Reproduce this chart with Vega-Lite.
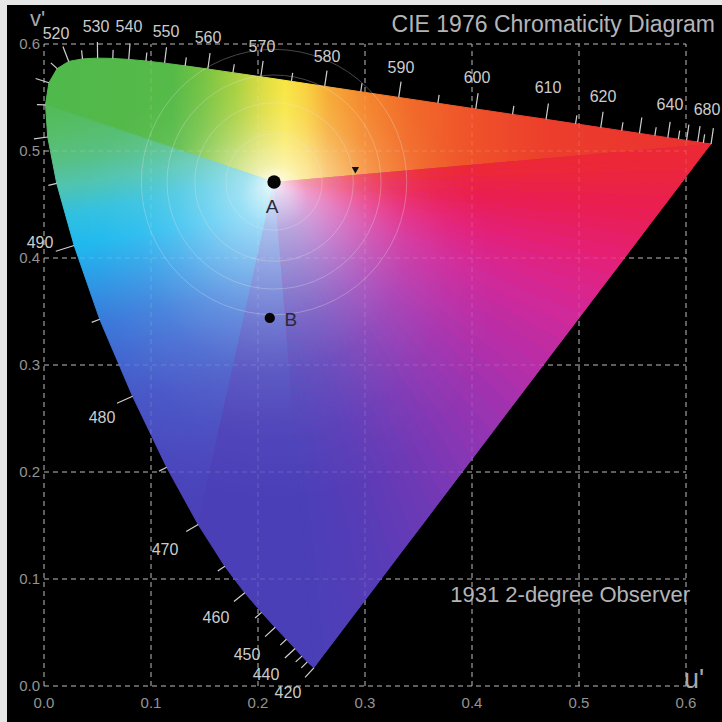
{
"$schema":"https://vega.github.io/schema/vega-lite/v6.json",
"width":715,"height":717,
"autosize":{"type":"none"},
"padding":{"left":7,"top":5,"right":0,"bottom":0},
"background":"#e6e6e6",
"config":{"view":{"fill":"#000000","stroke":null},"text":{"font":"Liberation Sans"}},
"datasets":{
"grid":[{"g":0},{"g":0.1},{"g":0.2},{"g":0.3},{"g":0.4},{"g":0.5},{"g":0.6}],
"locus":[
{"w":0,"u":0.215,"v":0.471},
{"w":420,"u":0.2522,"v":0.0169,"u2":0.2440,"v2":0.0081},
{"w":430,"u":0.2461,"v":0.0226,"u2":0.2405,"v2":0.0169},
{"w":435,"u":0.2411,"v":0.0279,"u2":0.2352,"v2":0.0225},
{"w":440,"u":0.2347,"v":0.0350,"u2":0.2251,"v2":0.0262},
{"w":445,"u":0.2266,"v":0.0437,"u2":0.2208,"v2":0.0382},
{"w":450,"u":0.2161,"v":0.0549,"u2":0.2066,"v2":0.0461},
{"w":455,"u":0.2033,"v":0.0688,"u2":0.1973,"v2":0.0635},
{"w":460,"u":0.1877,"v":0.0871,"u2":0.1775,"v2":0.0790},
{"w":465,"u":0.1690,"v":0.1119,"u2":0.1624,"v2":0.1074},
{"w":470,"u":0.1441,"v":0.1510,"u2":0.1329,"v2":0.1444},
{"w":475,"u":0.1147,"v":0.2044,"u2":0.1076,"v2":0.2008},
{"w":480,"u":0.0828,"v":0.2708,"u2":0.0682,"v2":0.2642},
{"w":485,"u":0.0521,"v":0.3427,"u2":0.0446,"v2":0.3398},
{"w":490,"u":0.0282,"v":0.4117,"u2":0.0110,"v2":0.4063},
{"w":495,"u":0.0119,"v":0.4698,"u2":0.0041,"v2":0.4679},
{"w":500,"u":0.0035,"v":0.5131,"u2":-0.0094,"v2":0.5113},
{"w":505,"u":0.0014,"v":0.5432,"u2":-0.0066,"v2":0.5434},
{"w":510,"u":0.0046,"v":0.5638,"u2":-0.0078,"v2":0.5678},
{"w":515,"u":0.0123,"v":0.5770,"u2":0.0064,"v2":0.5824},
{"w":520,"u":0.0231,"v":0.5837,"u2":0.0177,"v2":0.5977},
{"w":525,"u":0.0360,"v":0.5861,"u2":0.0351,"v2":0.5940},
{"w":530,"u":0.0501,"v":0.5868,"u2":0.0499,"v2":0.6018},
{"w":535,"u":0.0643,"v":0.5865,"u2":0.0646,"v2":0.5945},
{"w":540,"u":0.0792,"v":0.5856,"u2":0.0804,"v2":0.6006},
{"w":545,"u":0.0953,"v":0.5841,"u2":0.0961,"v2":0.5921},
{"w":550,"u":0.1127,"v":0.5821,"u2":0.1145,"v2":0.5970},
{"w":555,"u":0.1319,"v":0.5796,"u2":0.1330,"v2":0.5875},
{"w":560,"u":0.1531,"v":0.5766,"u2":0.1552,"v2":0.5915},
{"w":565,"u":0.1766,"v":0.5732,"u2":0.1778,"v2":0.5811},
{"w":570,"u":0.2026,"v":0.5694,"u2":0.2048,"v2":0.5842},
{"w":575,"u":0.2312,"v":0.5651,"u2":0.2324,"v2":0.5730},
{"w":580,"u":0.2623,"v":0.5604,"u2":0.2645,"v2":0.5752},
{"w":585,"u":0.2960,"v":0.5554,"u2":0.2972,"v2":0.5633},
{"w":590,"u":0.3315,"v":0.5501,"u2":0.3337,"v2":0.5649},
{"w":595,"u":0.3681,"v":0.5446,"u2":0.3693,"v2":0.5525},
{"w":600,"u":0.4035,"v":0.5393,"u2":0.4057,"v2":0.5541},
{"w":605,"u":0.4379,"v":0.5342,"u2":0.4391,"v2":0.5421},
{"w":610,"u":0.4692,"v":0.5296,"u2":0.4714,"v2":0.5444},
{"w":615,"u":0.4968,"v":0.5254,"u2":0.4980,"v2":0.5333},
{"w":620,"u":0.5203,"v":0.5219,"u2":0.5225,"v2":0.5367},
{"w":625,"u":0.5399,"v":0.5190,"u2":0.5411,"v2":0.5269},
{"w":630,"u":0.5565,"v":0.5165,"u2":0.5587,"v2":0.5313},
{"w":635,"u":0.5709,"v":0.5143,"u2":0.5721,"v2":0.5222},
{"w":640,"u":0.5830,"v":0.5125,"u2":0.5852,"v2":0.5273},
{"w":645,"u":0.5929,"v":0.5111,"u2":0.5941,"v2":0.5190},
{"w":650,"u":0.6005,"v":0.5099,"u2":0.6027,"v2":0.5247},
{"w":660,"u":0.6109,"v":0.5084,"u2":0.6131,"v2":0.5232},
{"w":670,"u":0.6162,"v":0.5076,"u2":0.6174,"v2":0.5155},
{"w":680,"u":0.6234,"v":0.5065,"u2":0.6256,"v2":0.5213}
],
"purples":[
{"s":0,"o":0,"u":0.215,"v":0.471},{"s":0,"o":1,"u":0.6234,"v":0.5065},{"s":0,"o":2,"u":0.6141,"v":0.4943},
{"s":0.025,"o":0,"u":0.215,"v":0.471},{"s":0.025,"o":1,"u":0.6141,"v":0.4943},{"s":0.025,"o":2,"u":0.6048,"v":0.4820},
{"s":0.05,"o":0,"u":0.215,"v":0.471},{"s":0.05,"o":1,"u":0.6048,"v":0.4820},{"s":0.05,"o":2,"u":0.5956,"v":0.4698},
{"s":0.075,"o":0,"u":0.215,"v":0.471},{"s":0.075,"o":1,"u":0.5956,"v":0.4698},{"s":0.075,"o":2,"u":0.5863,"v":0.4575},
{"s":0.1,"o":0,"u":0.215,"v":0.471},{"s":0.1,"o":1,"u":0.5863,"v":0.4575},{"s":0.1,"o":2,"u":0.5770,"v":0.4453},
{"s":0.125,"o":0,"u":0.215,"v":0.471},{"s":0.125,"o":1,"u":0.5770,"v":0.4453},{"s":0.125,"o":2,"u":0.5677,"v":0.4331},
{"s":0.15,"o":0,"u":0.215,"v":0.471},{"s":0.15,"o":1,"u":0.5677,"v":0.4331},{"s":0.15,"o":2,"u":0.5584,"v":0.4208},
{"s":0.175,"o":0,"u":0.215,"v":0.471},{"s":0.175,"o":1,"u":0.5584,"v":0.4208},{"s":0.175,"o":2,"u":0.5492,"v":0.4086},
{"s":0.2,"o":0,"u":0.215,"v":0.471},{"s":0.2,"o":1,"u":0.5492,"v":0.4086},{"s":0.2,"o":2,"u":0.5399,"v":0.3963},
{"s":0.225,"o":0,"u":0.215,"v":0.471},{"s":0.225,"o":1,"u":0.5399,"v":0.3963},{"s":0.225,"o":2,"u":0.5306,"v":0.3841},
{"s":0.25,"o":0,"u":0.215,"v":0.471},{"s":0.25,"o":1,"u":0.5306,"v":0.3841},{"s":0.25,"o":2,"u":0.5213,"v":0.3719},
{"s":0.275,"o":0,"u":0.215,"v":0.471},{"s":0.275,"o":1,"u":0.5213,"v":0.3719},{"s":0.275,"o":2,"u":0.5120,"v":0.3596},
{"s":0.3,"o":0,"u":0.215,"v":0.471},{"s":0.3,"o":1,"u":0.5120,"v":0.3596},{"s":0.3,"o":2,"u":0.5028,"v":0.3474},
{"s":0.325,"o":0,"u":0.215,"v":0.471},{"s":0.325,"o":1,"u":0.5028,"v":0.3474},{"s":0.325,"o":2,"u":0.4935,"v":0.3351},
{"s":0.35,"o":0,"u":0.215,"v":0.471},{"s":0.35,"o":1,"u":0.4935,"v":0.3351},{"s":0.35,"o":2,"u":0.4842,"v":0.3229},
{"s":0.375,"o":0,"u":0.215,"v":0.471},{"s":0.375,"o":1,"u":0.4842,"v":0.3229},{"s":0.375,"o":2,"u":0.4749,"v":0.3107},
{"s":0.4,"o":0,"u":0.215,"v":0.471},{"s":0.4,"o":1,"u":0.4749,"v":0.3107},{"s":0.4,"o":2,"u":0.4656,"v":0.2984},
{"s":0.425,"o":0,"u":0.215,"v":0.471},{"s":0.425,"o":1,"u":0.4656,"v":0.2984},{"s":0.425,"o":2,"u":0.4564,"v":0.2862},
{"s":0.45,"o":0,"u":0.215,"v":0.471},{"s":0.45,"o":1,"u":0.4564,"v":0.2862},{"s":0.45,"o":2,"u":0.4471,"v":0.2739},
{"s":0.475,"o":0,"u":0.215,"v":0.471},{"s":0.475,"o":1,"u":0.4471,"v":0.2739},{"s":0.475,"o":2,"u":0.4378,"v":0.2617},
{"s":0.5,"o":0,"u":0.215,"v":0.471},{"s":0.5,"o":1,"u":0.4378,"v":0.2617},{"s":0.5,"o":2,"u":0.4285,"v":0.2495},
{"s":0.525,"o":0,"u":0.215,"v":0.471},{"s":0.525,"o":1,"u":0.4285,"v":0.2495},{"s":0.525,"o":2,"u":0.4192,"v":0.2372},
{"s":0.55,"o":0,"u":0.215,"v":0.471},{"s":0.55,"o":1,"u":0.4192,"v":0.2372},{"s":0.55,"o":2,"u":0.4100,"v":0.2250},
{"s":0.575,"o":0,"u":0.215,"v":0.471},{"s":0.575,"o":1,"u":0.4100,"v":0.2250},{"s":0.575,"o":2,"u":0.4007,"v":0.2127},
{"s":0.6,"o":0,"u":0.215,"v":0.471},{"s":0.6,"o":1,"u":0.4007,"v":0.2127},{"s":0.6,"o":2,"u":0.3914,"v":0.2005},
{"s":0.625,"o":0,"u":0.215,"v":0.471},{"s":0.625,"o":1,"u":0.3914,"v":0.2005},{"s":0.625,"o":2,"u":0.3821,"v":0.1883},
{"s":0.65,"o":0,"u":0.215,"v":0.471},{"s":0.65,"o":1,"u":0.3821,"v":0.1883},{"s":0.65,"o":2,"u":0.3728,"v":0.1760},
{"s":0.675,"o":0,"u":0.215,"v":0.471},{"s":0.675,"o":1,"u":0.3728,"v":0.1760},{"s":0.675,"o":2,"u":0.3636,"v":0.1638},
{"s":0.7,"o":0,"u":0.215,"v":0.471},{"s":0.7,"o":1,"u":0.3636,"v":0.1638},{"s":0.7,"o":2,"u":0.3543,"v":0.1515},
{"s":0.725,"o":0,"u":0.215,"v":0.471},{"s":0.725,"o":1,"u":0.3543,"v":0.1515},{"s":0.725,"o":2,"u":0.3450,"v":0.1393},
{"s":0.75,"o":0,"u":0.215,"v":0.471},{"s":0.75,"o":1,"u":0.3450,"v":0.1393},{"s":0.75,"o":2,"u":0.3357,"v":0.1271},
{"s":0.775,"o":0,"u":0.215,"v":0.471},{"s":0.775,"o":1,"u":0.3357,"v":0.1271},{"s":0.775,"o":2,"u":0.3264,"v":0.1148},
{"s":0.8,"o":0,"u":0.215,"v":0.471},{"s":0.8,"o":1,"u":0.3264,"v":0.1148},{"s":0.8,"o":2,"u":0.3171,"v":0.1026},
{"s":0.825,"o":0,"u":0.215,"v":0.471},{"s":0.825,"o":1,"u":0.3171,"v":0.1026},{"s":0.825,"o":2,"u":0.3079,"v":0.0903},
{"s":0.85,"o":0,"u":0.215,"v":0.471},{"s":0.85,"o":1,"u":0.3079,"v":0.0903},{"s":0.85,"o":2,"u":0.2986,"v":0.0781},
{"s":0.875,"o":0,"u":0.215,"v":0.471},{"s":0.875,"o":1,"u":0.2986,"v":0.0781},{"s":0.875,"o":2,"u":0.2893,"v":0.0659},
{"s":0.9,"o":0,"u":0.215,"v":0.471},{"s":0.9,"o":1,"u":0.2893,"v":0.0659},{"s":0.9,"o":2,"u":0.2800,"v":0.0536},
{"s":0.925,"o":0,"u":0.215,"v":0.471},{"s":0.925,"o":1,"u":0.2800,"v":0.0536},{"s":0.925,"o":2,"u":0.2708,"v":0.0414},
{"s":0.95,"o":0,"u":0.215,"v":0.471},{"s":0.95,"o":1,"u":0.2708,"v":0.0414},{"s":0.95,"o":2,"u":0.2615,"v":0.0291},
{"s":0.975,"o":0,"u":0.215,"v":0.471},{"s":0.975,"o":1,"u":0.2615,"v":0.0291},{"s":0.975,"o":2,"u":0.2522,"v":0.0169}
],
"wlabels":[
{"w":520,"u":0.0112,"v":0.6093},{"w":530,"u":0.0486,"v":0.6159},{"w":540,"u":0.0794,"v":0.6159},
{"w":550,"u":0.1140,"v":0.6112},{"w":560,"u":0.1533,"v":0.6056},{"w":570,"u":0.2037,"v":0.5972},
{"w":580,"u":0.2645,"v":0.5879},{"w":590,"u":0.3336,"v":0.5776},{"w":600,"u":0.4047,"v":0.5682},
{"w":610,"u":0.4710,"v":0.5589},{"w":620,"u":0.5224,"v":0.5505},{"w":640,"u":0.5850,"v":0.5430},
{"w":680,"u":0.6196,"v":0.5383},{"w":490,"u":-0.0037,"v":0.4140},{"w":480,"u":0.0542,"v":0.2505},
{"w":470,"u":0.1131,"v":0.1271},{"w":460,"u":0.1607,"v":0.0636},{"w":450,"u":0.1897,"v":0.0290},
{"w":440,"u":0.2075,"v":0.0103},{"w":420,"u":0.2280,"v":-0.0065}
],
"rings":[{"r":0.045},{"r":0.074},{"r":0.1},{"r":0.124}],
"pts":[{"name":"A","u":0.215,"v":0.471},{"name":"B","u":0.211,"v":0.344}],
"ptlabels":[{"name":"A","u":0.2131,"v":0.4477},{"name":"B","u":0.2308,"v":0.3421}],
"marker":[{"u":0.291,"v":0.482}]
},
"layer":[
{"data":{"name":"grid"},"mark":{"type":"rule","color":"#a3a3a3","strokeDash":[5,4],"strokeWidth":1},
 "encoding":{"x":{"field":"g","type":"quantitative","scale":{"domain":[-0.03458,0.63364],"nice":false,"zero":false},"axis":null},
  "y":{"datum":0,"type":"quantitative","scale":{"domain":[-0.03364,0.63645],"nice":false,"zero":false},"axis":null},"y2":{"datum":0.6}}},
{"data":{"name":"grid"},"mark":{"type":"rule","color":"#a3a3a3","strokeDash":[5,4],"strokeWidth":1},
 "encoding":{"y":{"field":"g","type":"quantitative","scale":{"domain":[-0.03364,0.63645],"nice":false,"zero":false},"axis":null},
  "x":{"datum":0,"type":"quantitative","scale":{"domain":[-0.03458,0.63364],"nice":false,"zero":false},"axis":null},"x2":{"datum":0.6}}},
{"data":{"name":"locus"},"transform":[{"filter":"datum.w == 0 || datum.w >= 505"}],
 "mark":{"type":"line","interpolate":"linear-closed","strokeWidth":1,"strokeJoin":"round",
  "fill":{"gradient":"linear","x1":0,"y1":0,"x2":1,"y2":0,"stops":[{"offset":0,"color":"#50b94c"},{"offset":0.191,"color":"#55ba48"},{"offset":0.239,"color":"#78c444"},{"offset":0.287,"color":"#a8d03e"},{"offset":0.327,"color":"#dcdc3e"},{"offset":0.36,"color":"#f8e640"},{"offset":0.392,"color":"#f9d03a"},{"offset":0.424,"color":"#f6aa32"},{"offset":0.48,"color":"#f4862c"},{"offset":0.544,"color":"#f26c2a"},{"offset":0.641,"color":"#ef522a"},{"offset":0.753,"color":"#ec3e2c"},{"offset":1,"color":"#ea3030"}]},
  "stroke":{"gradient":"linear","x1":0,"y1":0,"x2":1,"y2":0,"stops":[{"offset":0,"color":"#50b94c"},{"offset":0.191,"color":"#55ba48"},{"offset":0.239,"color":"#78c444"},{"offset":0.287,"color":"#a8d03e"},{"offset":0.327,"color":"#dcdc3e"},{"offset":0.36,"color":"#f8e640"},{"offset":0.392,"color":"#f9d03a"},{"offset":0.424,"color":"#f6aa32"},{"offset":0.48,"color":"#f4862c"},{"offset":0.544,"color":"#f26c2a"},{"offset":0.641,"color":"#ef522a"},{"offset":0.753,"color":"#ec3e2c"},{"offset":1,"color":"#ea3030"}]}},
 "encoding":{"x":{"field":"u","type":"quantitative","scale":{"domain":[-0.03458,0.63364],"nice":false,"zero":false},"axis":null},
  "y":{"field":"v","type":"quantitative","scale":{"domain":[-0.03364,0.63645],"nice":false,"zero":false},"axis":null},
  "order":{"field":"w","type":"quantitative"}}},
{"data":{"name":"locus"},"transform":[{"filter":"datum.w == 0 || (datum.w >= 470 && datum.w <= 505)"}],
 "mark":{"type":"line","interpolate":"linear-closed","strokeWidth":1,"strokeJoin":"round",
  "fill":{"gradient":"linear","x1":0,"y1":0,"x2":0.1056,"y2":1.0562,"stops":[{"offset":0,"color":"#52bb54"},{"offset":0.073,"color":"#56be6c"},{"offset":0.13,"color":"#58c084"},{"offset":0.19,"color":"#50c4b0"},{"offset":0.255,"color":"#30c0e0"},{"offset":0.326,"color":"#1cb8ee"},{"offset":0.41,"color":"#2898e6"},{"offset":0.5,"color":"#3478da"},{"offset":0.59,"color":"#3e64d0"},{"offset":0.687,"color":"#4454c6"},{"offset":0.854,"color":"#4a46bc"},{"offset":1,"color":"#4b40b8"}]},
  "stroke":{"gradient":"linear","x1":0,"y1":0,"x2":0.1056,"y2":1.0562,"stops":[{"offset":0,"color":"#52bb54"},{"offset":0.073,"color":"#56be6c"},{"offset":0.13,"color":"#58c084"},{"offset":0.19,"color":"#50c4b0"},{"offset":0.255,"color":"#30c0e0"},{"offset":0.326,"color":"#1cb8ee"},{"offset":0.41,"color":"#2898e6"},{"offset":0.5,"color":"#3478da"},{"offset":0.59,"color":"#3e64d0"},{"offset":0.687,"color":"#4454c6"},{"offset":0.854,"color":"#4a46bc"},{"offset":1,"color":"#4b40b8"}]}},
 "encoding":{"x":{"field":"u","type":"quantitative","scale":{"domain":[-0.03458,0.63364],"nice":false,"zero":false},"axis":null},
  "y":{"field":"v","type":"quantitative","scale":{"domain":[-0.03364,0.63645],"nice":false,"zero":false},"axis":null},
  "order":{"field":"w","type":"quantitative"}}},
{"data":{"name":"locus"},"transform":[{"filter":"datum.w <= 470"}],
 "mark":{"type":"line","interpolate":"linear-closed","strokeWidth":1,"strokeJoin":"round",
  "fill":{"gradient":"linear","x1":0,"y1":0,"x2":0,"y2":1,"stops":[{"offset":0,"color":"#3c78da"},{"offset":0.2,"color":"#4560cc"},{"offset":0.35,"color":"#4a4abf"},{"offset":0.5,"color":"#4b3fb8"},{"offset":1,"color":"#4b3fb8"}]},
  "stroke":{"gradient":"linear","x1":0,"y1":0,"x2":0,"y2":1,"stops":[{"offset":0,"color":"#3c78da"},{"offset":0.2,"color":"#4560cc"},{"offset":0.35,"color":"#4a4abf"},{"offset":0.5,"color":"#4b3fb8"},{"offset":1,"color":"#4b3fb8"}]}},
 "encoding":{"x":{"field":"u","type":"quantitative","scale":{"domain":[-0.03458,0.63364],"nice":false,"zero":false},"axis":null},
  "y":{"field":"v","type":"quantitative","scale":{"domain":[-0.03364,0.63645],"nice":false,"zero":false},"axis":null},
  "order":{"field":"w","type":"quantitative"}}},
{"data":{"name":"locus"},"transform":[{"filter":"datum.w == 0 || datum.w == 420 || datum.w == 680"}],
 "mark":{"type":"line","interpolate":"linear-closed","strokeWidth":0,"stroke":"transparent",
  "fill":{"gradient":"linear","x1":1,"y1":0,"x2":0.418,"y2":1.164,"stops":[{"offset":0,"color":"#ec2837"},{"offset":0.125,"color":"#ea1e50"},{"offset":0.225,"color":"#e42078"},{"offset":0.325,"color":"#d22898"},{"offset":0.425,"color":"#b92ea7"},{"offset":0.525,"color":"#9e33b0"},{"offset":0.625,"color":"#8237b4"},{"offset":0.725,"color":"#6a3ab6"},{"offset":0.825,"color":"#583cb7"},{"offset":1,"color":"#4b3fb8"}]}},
 "encoding":{"x":{"field":"u","type":"quantitative","scale":{"domain":[-0.03458,0.63364],"nice":false,"zero":false},"axis":null},
  "y":{"field":"v","type":"quantitative","scale":{"domain":[-0.03364,0.63645],"nice":false,"zero":false},"axis":null},
  "order":{"field":"w","type":"quantitative"}}},
{"data":{"name":"purples"},"mark":{"type":"line","interpolate":"linear-closed","strokeWidth":0},
 "encoding":{"x":{"field":"u","type":"quantitative","scale":{"domain":[-0.03458,0.63364],"nice":false,"zero":false},"axis":null},
  "y":{"field":"v","type":"quantitative","scale":{"domain":[-0.03364,0.63645],"nice":false,"zero":false},"axis":null},
  "detail":{"field":"s","type":"nominal"},"order":{"field":"o","type":"quantitative"},
  "fill":{"field":"s","type":"quantitative","legend":null,"scale":{"interpolate":"rgb","clamp":true,"domain":[0.0125,0.1125,0.2125,0.3125,0.4125,0.5125,0.6125,0.7125,0.8125,0.9625],"range":["#ec2837","#ea1e50","#e42078","#d22898","#b92ea7","#9e33b0","#8237b4","#6a3ab6","#583cb7","#4b3fb8"]}}}},
{"data":{"name":"locus"},"transform":[{"filter":"datum.w > 0"}],
 "mark":{"type":"line","interpolate":"linear-closed","strokeWidth":0,"stroke":"transparent",
  "fill":{"gradient":"radial","x1":0.3434,"y1":0.2281,"r1":0,"x2":0.3434,"y2":0.3784,"r2":0.3306,"stops":[{"offset":0,"color":"rgba(255,255,255,0.93)"},{"offset":0.05,"color":"rgba(255,255,255,0.78)"},{"offset":0.15,"color":"rgba(255,255,255,0.55)"},{"offset":0.3,"color":"rgba(255,255,255,0.37)"},{"offset":0.45,"color":"rgba(255,255,255,0.21)"},{"offset":0.6,"color":"rgba(255,255,255,0.1)"},{"offset":0.8,"color":"rgba(255,255,255,0.03)"},{"offset":1,"color":"rgba(255,255,255,0)"}]}},
 "encoding":{"x":{"field":"u","type":"quantitative","scale":{"domain":[-0.03458,0.63364],"nice":false,"zero":false},"axis":null},
  "y":{"field":"v","type":"quantitative","scale":{"domain":[-0.03364,0.63645],"nice":false,"zero":false},"axis":null},
  "order":{"field":"w","type":"quantitative"}}},
{"data":{"name":"grid"},"mark":{"type":"rule","color":"#ffffff","opacity":0.16,"strokeDash":[5,4],"strokeWidth":1},
 "encoding":{"x":{"field":"g","type":"quantitative","scale":{"domain":[-0.03458,0.63364],"nice":false,"zero":false},"axis":null},
  "y":{"datum":0,"type":"quantitative","scale":{"domain":[-0.03364,0.63645],"nice":false,"zero":false},"axis":null},"y2":{"datum":0.6}}},
{"data":{"name":"grid"},"mark":{"type":"rule","color":"#ffffff","opacity":0.16,"strokeDash":[5,4],"strokeWidth":1},
 "encoding":{"y":{"field":"g","type":"quantitative","scale":{"domain":[-0.03364,0.63645],"nice":false,"zero":false},"axis":null},
  "x":{"datum":0,"type":"quantitative","scale":{"domain":[-0.03458,0.63364],"nice":false,"zero":false},"axis":null},"x2":{"datum":0.6}}},
{"data":{"name":"rings"},"mark":{"type":"point","shape":"circle","filled":false,"stroke":"#e8e8e8","strokeWidth":1,"opacity":0.3},
 "encoding":{"x":{"datum":0.215,"type":"quantitative","scale":{"domain":[-0.03458,0.63364],"nice":false,"zero":false},"axis":null},
  "y":{"datum":0.471,"type":"quantitative","scale":{"domain":[-0.03364,0.63645],"nice":false,"zero":false},"axis":null},
  "size":{"field":"r","type":"quantitative","legend":null,"scale":{"type":"pow","exponent":2,"domain":[0,0.1],"range":[0,45796]}}}},
{"data":{"name":"locus"},"transform":[{"filter":"datum.w > 0"}],"mark":{"type":"rule","color":"#d0d0d0","strokeWidth":1.2},
 "encoding":{"x":{"field":"u","type":"quantitative","scale":{"domain":[-0.03458,0.63364],"nice":false,"zero":false},"axis":null},
  "y":{"field":"v","type":"quantitative","scale":{"domain":[-0.03364,0.63645],"nice":false,"zero":false},"axis":null},
  "x2":{"field":"u2"},"y2":{"field":"v2"}}},
{"data":{"name":"wlabels"},"mark":{"type":"text","fontSize":16,"color":"#cccccc","align":"center","baseline":"middle"},
 "encoding":{"x":{"field":"u","type":"quantitative","scale":{"domain":[-0.03458,0.63364],"nice":false,"zero":false},"axis":null},
  "y":{"field":"v","type":"quantitative","scale":{"domain":[-0.03364,0.63645],"nice":false,"zero":false},"axis":null},
  "text":{"field":"w","type":"nominal"}}},
{"data":{"name":"grid"},"mark":{"type":"text","fontSize":15,"color":"#939393","align":"center","baseline":"middle"},
 "encoding":{"x":{"field":"g","type":"quantitative","scale":{"domain":[-0.03458,0.63364],"nice":false,"zero":false},"axis":null},
  "y":{"datum":-0.0159,"type":"quantitative","scale":{"domain":[-0.03364,0.63645],"nice":false,"zero":false},"axis":null},
  "text":{"field":"g","type":"quantitative","format":".1f"}}},
{"data":{"name":"grid"},"mark":{"type":"text","fontSize":15,"color":"#939393","align":"right","baseline":"middle"},
 "encoding":{"y":{"field":"g","type":"quantitative","scale":{"domain":[-0.03364,0.63645],"nice":false,"zero":false},"axis":null},
  "x":{"datum":-0.0037,"type":"quantitative","scale":{"domain":[-0.03458,0.63364],"nice":false,"zero":false},"axis":null},
  "text":{"field":"g","type":"quantitative","format":".1f"}}},
{"data":{"values":[{"t":"CIE 1976 Chromaticity Diagram","u":0.6271,"v":0.6178}]},"mark":{"type":"text","fontSize":23,"color":"#b4b4b8","align":"right","baseline":"middle"},
 "encoding":{"x":{"field":"u","type":"quantitative","scale":{"domain":[-0.03458,0.63364],"nice":false,"zero":false},"axis":null},
  "y":{"field":"v","type":"quantitative","scale":{"domain":[-0.03364,0.63645],"nice":false,"zero":false},"axis":null},
  "text":{"field":"t"}}},
{"data":{"values":[{"t":"1931 2-degree Observer","u":0.6037,"v":0.0850}]},"mark":{"type":"text","fontSize":22,"color":"#b4b4b8","align":"right","baseline":"middle"},
 "encoding":{"x":{"field":"u","type":"quantitative","scale":{"domain":[-0.03458,0.63364],"nice":false,"zero":false},"axis":null},
  "y":{"field":"v","type":"quantitative","scale":{"domain":[-0.03364,0.63645],"nice":false,"zero":false},"axis":null},
  "text":{"field":"t"}}},
{"data":{"values":[{"t":"u'","u":0.5981,"v":-0.0019}]},"mark":{"type":"text","fontSize":27,"color":"#a8a8ac","align":"left","baseline":"alphabetic"},
 "encoding":{"x":{"field":"u","type":"quantitative","scale":{"domain":[-0.03458,0.63364],"nice":false,"zero":false},"axis":null},
  "y":{"field":"v","type":"quantitative","scale":{"domain":[-0.03364,0.63645],"nice":false,"zero":false},"axis":null},
  "text":{"field":"t"}}},
{"data":{"values":[{"t":"v'","u":-0.0131,"v":0.6168}]},"mark":{"type":"text","fontSize":22,"color":"#a8a8ac","align":"left","baseline":"alphabetic"},
 "encoding":{"x":{"field":"u","type":"quantitative","scale":{"domain":[-0.03458,0.63364],"nice":false,"zero":false},"axis":null},
  "y":{"field":"v","type":"quantitative","scale":{"domain":[-0.03364,0.63645],"nice":false,"zero":false},"axis":null},
  "text":{"field":"t"}}},
{"data":{"name":"pts"},"mark":{"type":"point","shape":"circle","filled":true,"opacity":1,"color":"#050505"},
 "encoding":{"x":{"field":"u","type":"quantitative","scale":{"domain":[-0.03458,0.63364],"nice":false,"zero":false},"axis":null},
  "y":{"field":"v","type":"quantitative","scale":{"domain":[-0.03364,0.63645],"nice":false,"zero":false},"axis":null},
  "size":{"field":"name","type":"nominal","legend":null,"scale":{"domain":["A","B"],"range":[180,105]}}}},
{"data":{"name":"marker"},"mark":{"type":"point","shape":"triangle-down","filled":true,"opacity":1,"color":"#111111","size":55},
 "encoding":{"x":{"field":"u","type":"quantitative","scale":{"domain":[-0.03458,0.63364],"nice":false,"zero":false},"axis":null},
  "y":{"field":"v","type":"quantitative","scale":{"domain":[-0.03364,0.63645],"nice":false,"zero":false},"axis":null}}},
{"data":{"name":"ptlabels"},"mark":{"type":"text","fontSize":19,"color":"#2a2a3a","align":"center","baseline":"middle"},
 "encoding":{"x":{"field":"u","type":"quantitative","scale":{"domain":[-0.03458,0.63364],"nice":false,"zero":false},"axis":null},
  "y":{"field":"v","type":"quantitative","scale":{"domain":[-0.03364,0.63645],"nice":false,"zero":false},"axis":null},
  "text":{"field":"name"}}}
]
}
